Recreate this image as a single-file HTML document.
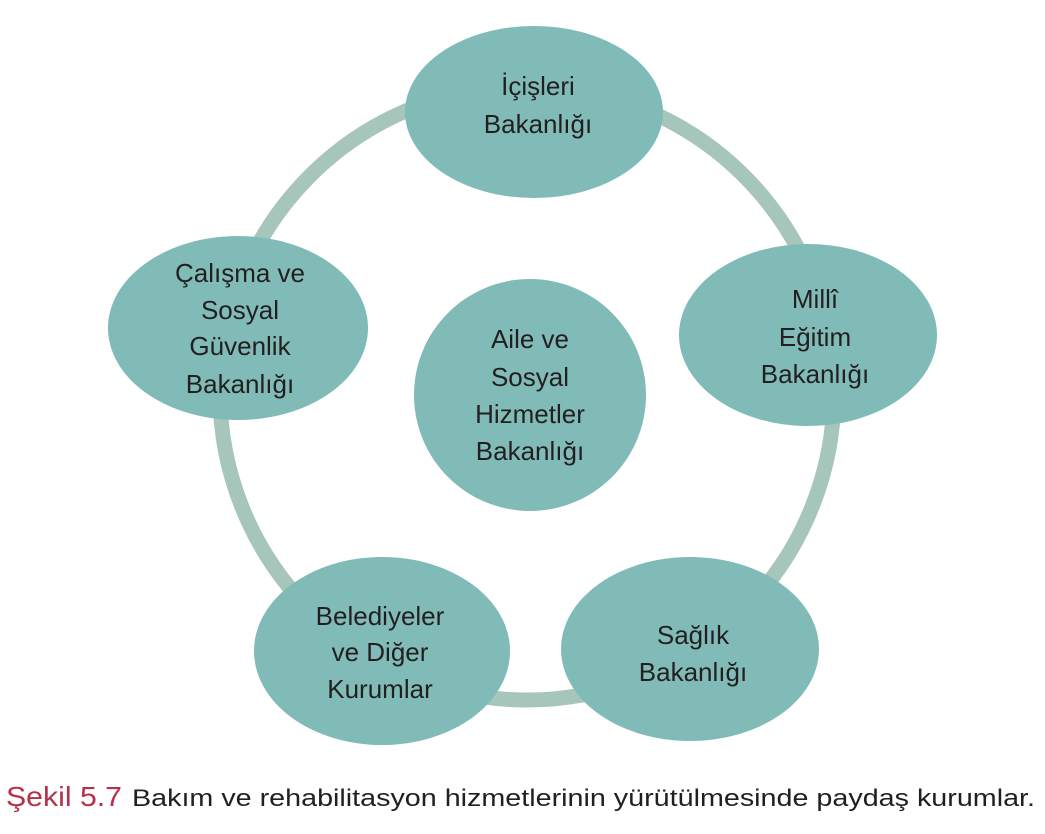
<!DOCTYPE html>
<html><head><meta charset="utf-8"><style>
html,body{margin:0;padding:0;background:#fff;}
svg{display:block;}
text{font-family:"Liberation Sans",sans-serif;fill:#231f20;}
</style></head><body>
<svg width="1045" height="834" viewBox="0 0 1045 834" xmlns="http://www.w3.org/2000/svg">
<circle cx="527" cy="393" r="307" fill="none" stroke="#a6c6bb" stroke-width="15"/>
<g fill="#80bbb8">
<ellipse cx="534" cy="112" rx="129" ry="86"/>
<ellipse cx="238" cy="328" rx="130" ry="92"/>
<ellipse cx="808" cy="335" rx="129" ry="91"/>
<circle cx="530" cy="395" r="116"/>
<ellipse cx="382" cy="651" rx="128" ry="94"/>
<ellipse cx="690" cy="649" rx="129" ry="92"/>
</g>
<g font-size="26" text-anchor="middle">
<text x="538" y="95">İçişleri</text>
<text x="538" y="133">Bakanlığı</text>
<text x="240" y="282">Çalışma ve</text>
<text x="240" y="319">Sosyal</text>
<text x="240" y="355">Güvenlik</text>
<text x="240" y="393">Bakanlığı</text>
<text x="815" y="308">Millî</text>
<text x="815" y="346">Eğitim</text>
<text x="815" y="383">Bakanlığı</text>
<text x="530" y="348">Aile ve</text>
<text x="530" y="386">Sosyal</text>
<text x="530" y="423">Hizmetler</text>
<text x="530" y="460">Bakanlığı</text>
<text x="380" y="625">Belediyeler</text>
<text x="380" y="661">ve Diğer</text>
<text x="380" y="698">Kurumlar</text>
<text x="693" y="644">Sağlık</text>
<text x="693" y="681">Bakanlığı</text>
</g>
<text x="6" y="806" font-size="28" style="fill:#b5314a" textLength="116" lengthAdjust="spacingAndGlyphs">Şekil 5.7</text>
<text x="132" y="806" font-size="24" textLength="903" lengthAdjust="spacingAndGlyphs">Bakım ve rehabilitasyon hizmetlerinin yürütülmesinde paydaş kurumlar.</text>
</svg>
</body></html>
